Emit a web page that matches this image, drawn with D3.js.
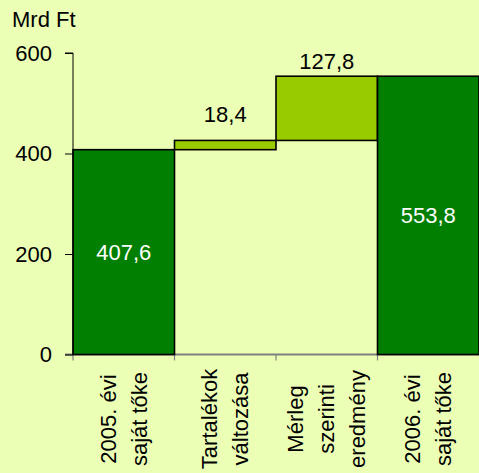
<html><head>
<meta charset="utf-8">
<script src="https://cdnjs.cloudflare.com/ajax/libs/d3/7.8.5/d3.min.js"></script>
<style>
  body { margin: 0; background: #ebffb5; }
  svg { display: block; }
  text { font-family: "Liberation Sans", Arial, sans-serif; font-size: 22px; }
  .y-axis path, .y-axis line { stroke: #000; }
  .x-axis path, .x-axis line { stroke: #808080; }
</style>
</head>
<body>
<script type="text/javascript">
// chart data
var categories = [["2005. évi", "saját tőke"], ["Tartalékok", "változása"], ["Mérleg", "szerinti", "eredmény"], ["2006. évi", "saját tőke"]];
var values = [407.6, 18.4, 127.8, 553.8];
var kinds = ["total", "delta", "delta", "total"];
var yTicks = [0, 200, 400, 600];
var yTitle = "Mrd Ft";

function draw() {
    "use strict";
    var width = 479, height = 473;
    var svg = d3.select("body").append("svg")
        .attr("width", width)
        .attr("height", height);

    var fmt = d3.formatLocale({decimal: ",", thousands: " ", grouping: [3], currency: ["", ""]}).format(".1f");

    // running base for the floating bars
    var run = 0;
    var rows = values.map(function(v, i) {
        var lo, hi;
        if (kinds[i] == "total") { lo = 0; hi = v; run = v; }
        else { lo = run; hi = run + v; run = hi; }
        return {i: i, lo: lo, hi: hi, v: v, kind: kinds[i]};
    });

    var x = d3.scaleBand().domain(d3.range(categories.length)).range([73, 479]).padding(0);
    var y = d3.scaleLinear().domain([0, 600]).range([354.5, 53]);

    // x axis (grey line at 0, ticks between categories)
    var xa = svg.append("g").attr("class", "x-axis");
    xa.append("line").attr("x1", 65).attr("x2", 479)
        .attr("y1", y(0)).attr("y2", y(0)).attr("stroke-width", 2);
    xa.selectAll(".xt").data(d3.range(categories.length)).enter().append("line")
        .attr("x1", function(d) { return x(d); }).attr("x2", function(d) { return x(d); })
        .attr("y1", y(0)).attr("y2", y(0) + 6).attr("stroke-width", 1.2);

    // bars
    svg.selectAll(".bar").data(rows).enter().append("rect")
        .attr("x", function(d) { return x(d.i); })
        .attr("y", function(d) { return y(d.hi); })
        .attr("width", x.bandwidth())
        .attr("height", function(d) { return y(d.lo) - y(d.hi); })
        .attr("fill", function(d) { return d.kind == "total" ? "#007f00" : "#99cc00"; })
        .attr("stroke", "#000")
        .attr("stroke-width", 1.6);

    // y axis
    var yAxis = d3.axisLeft(y).tickValues(yTicks).tickSize(8).tickPadding(13).tickFormat(d3.format("d"));
    var ya = svg.append("g").attr("class", "y-axis").attr("transform", "translate(73,0)").call(yAxis);
    ya.select(".domain").attr("d", "M-8," + y(600) + "H0V" + y(0));
    ya.selectAll("text").attr("fill", "#000").style("font-size", "22px")
        .style("font-family", "'Liberation Sans', Arial, sans-serif");

    svg.append("text").attr("x", 12).attr("y", 27).text(yTitle);

    // value labels
    svg.selectAll(".val").data(rows).enter().append("text")
        .attr("x", function(d) { return x(d.i) + x.bandwidth() / 2; })
        .attr("y", function(d) {
            if (d.kind == "total") return (y(d.hi) + y(d.lo)) / 2;
            return Math.min(y(d.hi) - 7, y(d.lo) - 28);
        })
        .attr("dy", function(d) { return d.kind == "total" ? "0.35em" : 0; })
        .attr("text-anchor", "middle")
        .attr("fill", function(d) { return d.kind == "total" ? "#fff" : "#000"; })
        .text(function(d) { return fmt(d.v); });

    // category labels, rotated
    var cl = svg.selectAll(".cat").data(categories).enter().append("text")
        .attr("transform", function(d, i) { return "translate(" + (x(i) + x.bandwidth() / 2) + ",419) rotate(-90)"; })
        .attr("text-anchor", "middle");
    cl.each(function(lines) {
        var t = d3.select(this);
        lines.forEach(function(s, j) {
            t.append("tspan").attr("x", 0)
                .attr("y", (j - (lines.length - 1) / 2) * 31)
                .attr("dy", "0.35em")
                .text(s);
        });
    });
}
draw();
</script>
</body></html>
